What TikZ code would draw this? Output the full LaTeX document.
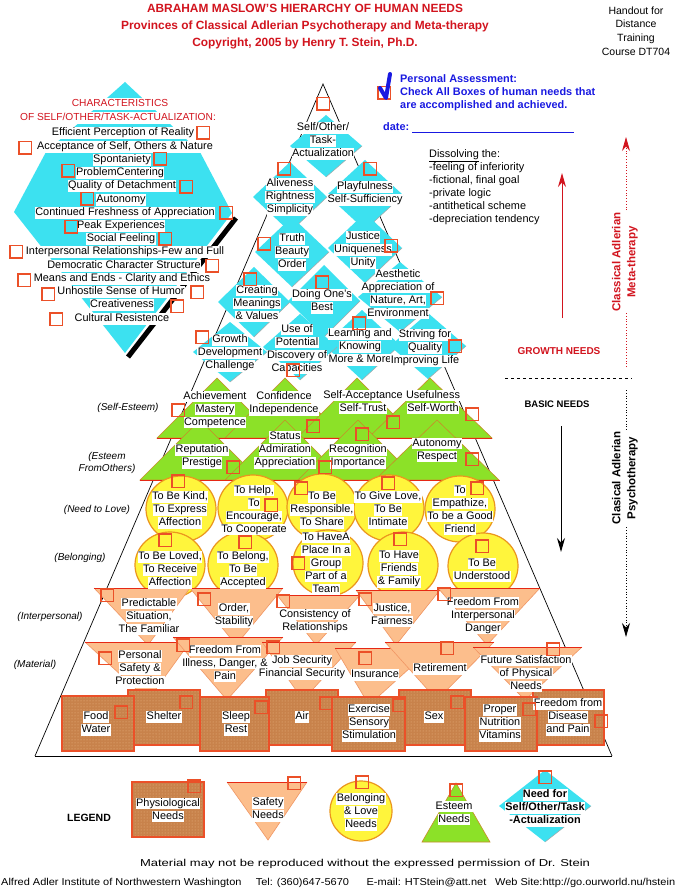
\documentclass[tikz,border=0pt]{standalone}
\usepackage{fontspec}
\setmainfont{Liberation Sans}
\usepackage{graphicx}
\usetikzlibrary{arrows.meta,patterns}
\definecolor{cyanc}{RGB}{60,225,240}
\definecolor{greenc}{RGB}{140,225,40}
\definecolor{greenedge}{RGB}{200,140,40}
\definecolor{yellowc}{RGB}{255,245,60}
\definecolor{orangec}{RGB}{235,150,30}
\definecolor{salmon}{RGB}{252,190,140}
\definecolor{salmonedge}{RGB}{240,150,100}
\definecolor{brownc}{RGB}{200,130,75}
\definecolor{brownlt}{RGB}{235,185,135}
\definecolor{cbred}{RGB}{235,80,40}
\definecolor{linered}{RGB}{230,40,20}
\definecolor{titred}{RGB}{210,20,30}
\definecolor{bluec}{RGB}{25,25,225}
\newcommand\fsz{\fontsize{10.9}{13}\selectfont}
\newcommand\wb[1]{{\fboxsep=0.4pt\colorbox{white}{\rule[-2.6pt]{0pt}{10.6pt}#1}}}
\newsavebox\fitbox
\newcommand\fitto[2]{\sbox\fitbox{#2}\pgfmathsetmacro\fitsc{#1/\wd\fitbox}\scalebox{\fitsc}[1]{\usebox\fitbox}}
\newcommand\cyd[4]{\fill[cyanc] (#1,#2-#4)--(#1+#3,#2)--(#1,#2+#4)--(#1-#3,#2)--cycle;
  \draw[gray!70,line width=0.5] (#1+#3,#2)--(#1,#2+#4);}
\newcommand\grt[4]{\filldraw[fill=greenc,draw=greenedge,line width=0.6] (#1,#2)--(#1+#3,#4)--(#1-#3,#4)--cycle;}
\newcommand\sft[5]{\fill[salmon] (#1,#3)--(#2,#3)--(#4,#5)--cycle;
  \draw[salmonedge,line width=0.6] (#2,#3)--(#4,#5)--(#1,#3);
  \draw[linered,line width=1] (#1,#3)--(#2,#3);}
\newcommand\phb[4]{\fill[brownc] (#1,#2) rectangle (#3,#4);
  \fill[pattern=dots,pattern color=brownlt] (#1,#2) rectangle (#3,#4);
  \draw[cbred,line width=1.2] (#1,#2) rectangle (#3,#4);}
\begin{document}
\begin{tikzpicture}[x=1pt,y=-1pt,
  lbl/.style={inner sep=0pt,align=center,font=\fsz},
  cbx/.style={draw=cbred,line width=1.5pt,minimum size=12.5pt,inner sep=0pt},
  side/.style={font=\itshape\fontsize{10}{12}\selectfont,inner sep=0pt,align=center},
  rot/.style={rotate=90,align=center,fill=white,inner sep=1pt,font=\bfseries\fontsize{11.5}{15}\selectfont}]
\fill[white] (0,0) rectangle (678,890);
\path[use as bounding box] (0,0) rectangle (678,890);

% ---------- header ----------
\node[font=\bfseries\fontsize{11.9}{17}\selectfont,text=titred,align=center,inner sep=0] (title) at (305,27)
 {ABRAHAM MASLOW'S HIERARCHY OF HUMAN NEEDS\\Provinces of Classical Adlerian Psychotherapy and Meta-therapy\\Copyright, 2005 by Henry T. Stein, Ph.D.};
\node[font=\fontsize{10.5}{13.7}\selectfont,align=center,inner sep=0] (handout) at (636,31) {Handout for\\Distance\\Training\\Course DT704};

% ---------- pyramid outline ----------
\coordinate (apex) at (323,84);
\coordinate (bl) at (35,756);
\coordinate (br) at (612,756);
\draw[line width=0.7] (bl) -- (apex) -- (br);
\draw[line width=1] (bl) -- (br);

% ---------- left characteristics diamond ----------
\fill[cyanc] (125,82)--(200,152)--(232,213)--(125,353)--(14,212)--(46,152)--cycle;
\draw[black,line width=5] (236,218) -- (128,357);

% ---------- growth diamonds ----------
\cyd{326}{146}{36}{31}
\cyd{290}{197}{37}{35}
\cyd{365}{195}{38}{35}
\cyd{292}{252}{37}{35}
\cyd{365}{248}{37}{35}
\cyd{400}{297}{42}{35}
\cyd{254}{302}{36}{35}
\cyd{324}{301}{36}{36}
\cyd{362}{345}{38}{35}
\cyd{428}{346}{38}{33}
\cyd{300}{347}{37}{33}
\cyd{230}{352}{37}{30}

% ---------- esteem triangles ----------
\grt{217}{378}{60}{438}
\grt{285}{378}{60}{438}
\grt{357}{378}{60}{438}
\grt{430}{378}{62}{438}
\draw[linered,line width=1] (157,438) -- (492,438);
\grt{200}{420}{60}{480}
\grt{285}{420}{60}{480}
\grt{358}{420}{60}{480}
\grt{437}{420}{62}{480}
\draw[linered,line width=1] (140,480) -- (500,480);

% ---------- love circles ----------
\foreach \x/\y in {181/509,253/508,322/507,389/508,460/509,170/565,243/565,328/563,403/565,483/566}
  \filldraw[fill=yellowc,draw=orangec,line width=1.2] (\x,\y) ellipse [x radius=35,y radius=33];

% ---------- safety triangles ----------
\sft{94}{190}{588}{148}{645}
\sft{190}{283}{588}{236}{645}
\sft{277}{360}{595}{316}{645}
\sft{356}{440}{590}{396}{645}
\sft{438}{540}{588}{487}{645}
\sft{85}{190}{642}{148}{700}
\sft{173}{283}{637}{227}{700}
\sft{262}{356}{642}{303}{700}
\sft{335}{432}{648}{369}{705}
\sft{385}{494}{642}{437}{700}
\sft{473}{582}{647}{525}{700}

% ---------- physiological boxes ----------
\phb{128}{690}{200}{745}
\phb{266}{690}{338}{745}
\phb{399}{690}{471}{745}
\phb{533}{690}{604}{745}
\phb{62}{696}{134}{751}
\phb{200}{697}{269}{751}
\phb{332}{697}{405}{751}
\phb{465}{697}{537}{751}

% ---------- left list ----------
\node[lbl,text=titred,font=\fontsize{10.2}{13}\selectfont] (ch1) at (120,104) {\wb{CHARACTERISTICS}};
\node[lbl,text=titred,font=\fontsize{10.2}{13}\selectfont] (ch2) at (118,118) {\wb{OF SELF/OTHER/TASK-ACTUALIZATION:}};
\node[lbl] (l1) at (123,133) {\wb{Efficient Perception of Reality}};
\node[lbl] (l2) at (125,147) {\wb{Acceptance of Self, Others \& Nature}};
\node[lbl] (l3) at (122,160) {\wb{Spontaniety}};
\node[lbl] (l4) at (120,173) {\wb{ProblemCentering}};
\node[lbl] (l5) at (122,186) {\wb{Quality of Detachment}};
\node[lbl] (l6) at (121,200) {\wb{Autonomy}};
\node[lbl] (l7) at (125,213) {\wb{Continued Freshness of Appreciation}};
\node[lbl] (l8) at (121,226) {\wb{Peak Experiences}};
\node[lbl] (l9) at (121,239) {\wb{Social Feeling}};
\node[lbl] (l10) at (125,252) {\wb{Interpersonal Relationships-Few and Full}};
\node[lbl] (l11) at (124,266) {\wb{Democratic Character Structure}};
\node[lbl] (l12) at (122,279) {\wb{Means and Ends - Clarity and Ethics}};
\node[lbl] (l13) at (121,292) {\wb{Unhostile Sense of Humor}};
\node[lbl] (l14) at (122,305) {\wb{Creativeness}};
\node[lbl] (l15) at (122,319) {\wb{Cultural Resistence}};

% ---------- growth labels ----------
\node[lbl] (g1) at (323,141) {\wb{Self/Other/}\\\wb{Task-}\\\wb{Actualization}};
\node[lbl] (g2) at (290,197) {\wb{Aliveness}\\\wb{Rightness}\\\wb{Simplicity}};
\node[lbl] (g3) at (365,193.5) {\wb{Playfulness}\\\wb{Self-Sufficiency}};
\node[lbl] (g4) at (292,252) {\wb{Truth}\\\wb{Beauty}\\\wb{Order}};
\node[lbl] (g5) at (363,250) {\wb{Justice}\\\wb{Uniqueness}\\\wb{Unity}};
\node[lbl] (g6) at (398,294) {\wb{Aesthetic}\\\wb{Appreciation of}\\\wb{Nature, Art,}\\\wb{Environment}};
\node[lbl] (g7) at (257,303.5) {\wb{Creating}\\\wb{Meanings}\\\wb{\& Values}};
\node[lbl] (g8) at (322,301.5) {\wb{Doing One's}\\\wb{Best}};
\node[lbl] (g9) at (297,349) {\wb{Use of}\\\wb{Potential}\\\wb{Discovery of}\\\wb{Capacities}};
\node[lbl] (g10) at (360,347) {\wb{Learning and}\\\wb{Knowing}\\\wb{More \& More}};
\node[lbl] (g11) at (425,348) {\wb{Striving for}\\\wb{Quality}\\\wb{Improving Life}};
\node[lbl] (g12) at (230,353) {\wb{Growth}\\\wb{Development}\\\wb{Challenge}};

% ---------- esteem labels ----------
\node[lbl] (e1) at (215,409.5) {\wb{Achievement}\\\wb{Mastery}\\\wb{Competence}};
\node[lbl] (e2) at (284,403.5) {\wb{Confidence}\\\wb{Independence}};
\node[lbl] (e3) at (363,402) {\wb{Self-Acceptance}\\\wb{Self-Trust}};
\node[lbl] (e4) at (433,402) {\wb{Usefulness}\\\wb{Self-Worth}};
\node[lbl] (e5) at (202,456.5) {\wb{Reputation}\\\wb{Prestige}};
\node[lbl] (e6) at (285,450) {\wb{Status}\\\wb{Admiration}\\\wb{Appreciation}};
\node[lbl] (e7) at (358,456.5) {\wb{Recognition}\\\wb{Importance}};
\node[lbl] (e8) at (437,450) {\wb{Autonomy}\\\wb{Respect}};

% ---------- love labels ----------
\node[lbl] (v1) at (180,510) {\wb{To Be Kind,}\\\wb{To Express}\\\wb{Affection}};
\node[lbl] (v2) at (254,510) {\wb{To Help,}\\\wb{To}\\\wb{Encourage,}\\\wb{To Cooperate}};
\node[lbl] (v3) at (322,510) {\wb{To Be}\\\wb{Responsible,}\\\wb{To Share}};
\node[lbl] (v4) at (388,510) {\wb{To Give Love,}\\\wb{To Be}\\\wb{Intimate}};
\node[lbl] (v5) at (460,510) {\wb{To}\\\wb{Empathize,}\\\wb{To be a Good}\\\wb{Friend}};
\node[lbl] (v6) at (170,570) {\wb{To Be Loved,}\\\wb{To Receive}\\\wb{Affection}};
\node[lbl] (v7) at (243,570) {\wb{To Belong,}\\\wb{To Be}\\\wb{Accepted}};
\node[lbl] (v8) at (326,563.5) {\wb{To HaveA}\\\wb{Place In a}\\\wb{Group}\\\wb{Part of a}\\\wb{Team}};
\node[lbl] (v9) at (399,569) {\wb{To Have}\\\wb{Friends}\\\wb{\& Family}};
\node[lbl] (v10) at (482,570) {\wb{To Be}\\\wb{Understood}};

% ---------- safety labels ----------
\node[lbl] (s1) at (149,616.5) {\wb{Predictable}\\\wb{Situation,}\\\wb{The Familiar}};
\node[lbl] (s2) at (234,615.5) {\wb{Order,}\\\wb{Stability}};
\node[lbl] (s3) at (315,621) {\wb{Consistency of}\\\wb{Relationships}};
\node[lbl] (s4) at (392,615) {\wb{Justice,}\\\wb{Fairness}};
\node[lbl] (s5) at (483,615.5) {\wb{Freedom From}\\\wb{Interpersonal}\\\wb{Danger}};
\node[lbl] (s6) at (140,669) {\wb{Personal}\\\wb{Safety \&}\\\wb{Protection}};
\node[lbl] (s7) at (225,663.5) {\wb{Freedom From}\\\wb{Illness, Danger, \&}\\\wb{Pain}};
\node[lbl] (s8) at (302,667.5) {\wb{Job Security}\\\wb{Financial Security}};
\node[lbl] (s9) at (375,675) {\wb{Insurance}};
\node[lbl] (s10) at (440,669) {\wb{Retirement}};
\node[lbl] (s11) at (526,673.5) {\wb{Future Satisfaction}\\\wb{of Physical}\\\wb{Needs}};

% ---------- physiological labels ----------
\node[lbl] (p1) at (96,723.5) {\wb{Food}\\\wb{Water}};
\node[lbl] (p2) at (164,717) {\wb{Shelter}};
\node[lbl] (p3) at (236,723.5) {\wb{Sleep}\\\wb{Rest}};
\node[lbl] (p4) at (302,717) {\wb{Air}};
\node[lbl] (p5) at (369,723) {\wb{Exercise}\\\wb{Sensory}\\\wb{Stimulation}};
\node[lbl] (p6) at (434,717) {\wb{Sex}};
\node[lbl] (p7) at (500,723) {\wb{Proper}\\\wb{Nutrition}\\\wb{Vitamins}};
\node[lbl] (p8) at (568,717) {\wb{Freedom from}\\\wb{Disease}\\\wb{and Pain}};

% ---------- side labels ----------
\node[side] (k1) at (128,408) {(Self-Esteem)};
\node[side] (k2) at (107,463) {(Esteem\\FromOthers)};
\node[side] (k3) at (97,510) {(Need to Love)};
\node[side] (k4) at (80,558) {(Belonging)};
\node[side] (k5) at (50,617) {(Interpersonal)};
\node[side] (k6) at (35,665) {(Material)};

% ---------- personal assessment ----------
\node[font=\bfseries\fontsize{10.9}{13}\selectfont,text=bluec,align=left,anchor=west,inner sep=0] (pa) at (400,93)
 {Personal Assessment:\\Check All Boxes of human needs that\\are accomplished and achieved.};
\node[cbx] (pacb) at (384,93) {};
\draw[bluec,line width=4,line cap=round,line join=round] (380,88) -- (386,98) -- (390,74);
\node[font=\bfseries\fontsize{10.9}{13}\selectfont,text=bluec,anchor=west,inner sep=0] (date) at (383,127) {date:};
\coordinate (dl1) at (412,133);
\coordinate (dl2) at (574,133);
\draw[bluec,line width=1] (dl1) -- (dl2);

\node[lbl,align=left,anchor=west] (diss) at (429,187.5)
 {\underline{Dissolving} the:\\-feeling of inferiority\\-fictional, final goal\\-private logic\\-antithetical scheme\\-depreciation tendency};

% ---------- right side arrows and labels ----------
\coordinate (ga) at (562,318);
\coordinate (gb) at (562,173);
\draw[titred,line width=1,-{Stealth[length=14pt,width=8pt]}] (ga) -- (gb);
\coordinate (ra) at (626,367);
\coordinate (rb) at (626,137);
\draw[titred,line width=0.8,dotted,-{Stealth[length=14pt,width=8pt]}] (ra) -- (rb);
\node[rot,text=titred] (meta) at (625,262) {Classical Adlerian\\Meta-therapy};
\node[font=\bfseries\fontsize{10}{12}\selectfont,text=titred,inner sep=0] (growth) at (559,351) {GROWTH NEEDS};
\coordinate (da) at (505,378);
\coordinate (db) at (632,378);
\draw[dashed,line width=0.8] (da) -- (db);
\node[font=\bfseries\fontsize{9.5}{12}\selectfont,inner sep=0] (basic) at (557,404) {BASIC NEEDS};
\coordinate (ba) at (561,426);
\coordinate (bb) at (561,552);
\draw[line width=1,-{Stealth[length=14pt,width=8pt]}] (ba) -- (bb);
\coordinate (pa1) at (626,390);
\coordinate (pa2) at (626,637);
\draw[line width=0.8,dotted,-{Stealth[length=14pt,width=8pt]}] (pa1) -- (pa2);
\node[rot] (psy) at (625,478) {Clasical Adlerian\\Psychotherapy};

% ---------- legend ----------
\node[font=\bfseries\fontsize{10.5}{13}\selectfont,inner sep=0] (legend) at (89,818) {LEGEND};
\phb{132}{782}{204}{837}
\node[lbl] (lg1) at (168,810) {\wb{Physiological}\\\wb{Needs}};
\sft{227}{307}{782}{268}{840}
\node[lbl] (lg2) at (268,809.5) {\wb{Safety}\\\wb{Needs}};
\filldraw[fill=yellowc,draw=orangec,line width=1.2] (361,811) ellipse [x radius=31,y radius=30];
\node[lbl] (lg3) at (361,812) {\wb{Belonging}\\\wb{\& Love}\\\wb{Needs}};
\grt{456}{783}{34}{842}
\node[lbl] (lg4) at (454,813) {\wb{Esteem}\\\wb{Needs}};
\cyd{545}{806}{46}{36}
\node[lbl,font=\bfseries\fontsize{10.9}{13}\selectfont] (lg5) at (545,808) {\wb{Need for}\\\wb{Self/Other/Task}\\\wb{-Actualization}};

% ---------- checkboxes ----------
\foreach \x/\y [count=\i] in {203/133,25/148,160/159,68/171,186/187,87/199,226/213,71/227,165/239,16/252,212/266,24/280,48/294,197/292,177/306,56/319}
  \node[cbx] (cbL\i) at (\x,\y) {};
\foreach \x/\y [count=\i] in {323/104,284/169,370/169,264/244,391/246,437/298,250/279,322/282,359/323,455/346,202/337,293/370}
  \node[cbx] (cbG\i) at (\x,\y) {};
\foreach \x/\y [count=\i] in {178/410,313/426,393/422,472/414,362/434,233/467,325/467,472/459}
  \node[cbx] (cbE\i) at (\x,\y) {};
\foreach \x/\y [count=\i] in {178/481,271/505,301/488,388/483,477/488,165/540,245/542,298/563,400/539,482/546}
  \node[cbx] (cbV\i) at (\x,\y) {};
\foreach \x/\y [count=\i] in {107/595,204/599,283/601,365/599,444/594,105/658,183/645,273/647,365/658,447/648,553/649}
  \node[cbx] (cbS\i) at (\x,\y) {};
\foreach \x/\y [count=\i] in {121/712,186/702,261/707,326/703,399/705,457/702,529/709,601/721}
  \node[cbx] (cbP\i) at (\x,\y) {};
\foreach \x/\y [count=\i] in {194/786,294/783,362/782,456/790,545/777}
  \node[cbx] (cbK\i) at (\x,\y) {};

% ---------- footer ----------
\node[font=\fontsize{10}{12}\selectfont,inner sep=0] (f1) at (365,864) {\fitto{450}{Material may not be reproduced without the expressed permission of Dr. Stein}};
\node[font=\fontsize{10}{12}\selectfont,inner sep=0,anchor=west] (f2) at (1,883) {\fitto{674}{Alfred Adler Institute of Northwestern Washington\hspace{13pt}Tel: (360)647-5670\hspace{16pt}E-mail: HTStein@att.net\hspace{8pt}Web Site:http://go.ourworld.nu/hstein}};
\end{tikzpicture}
\end{document}
